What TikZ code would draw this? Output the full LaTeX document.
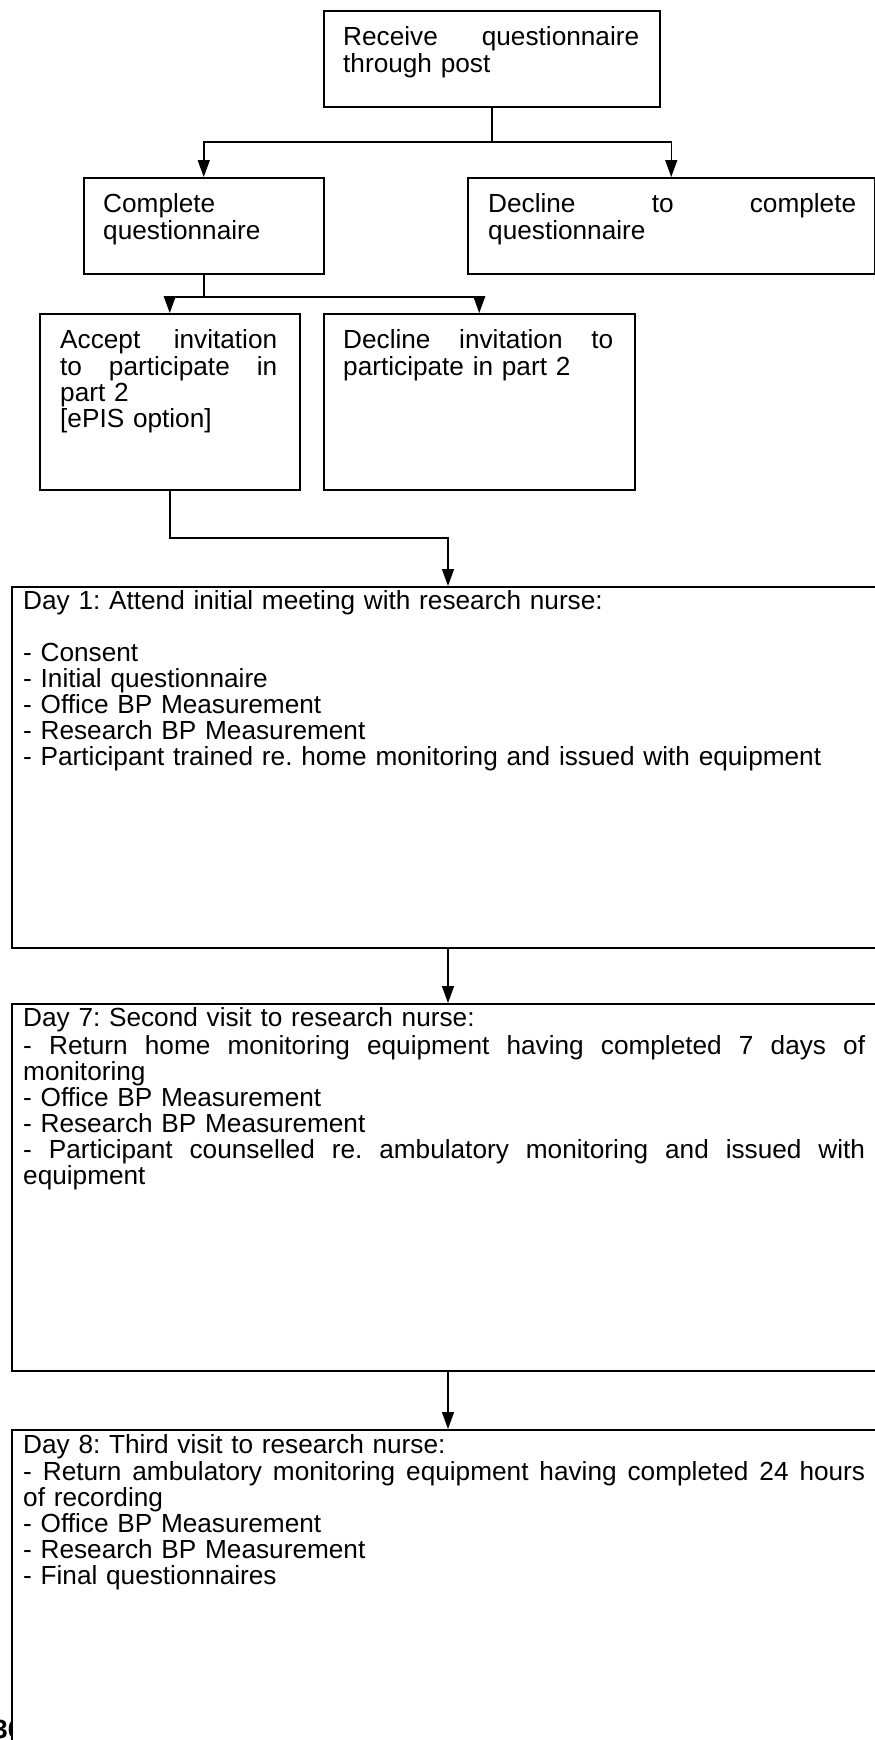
\documentclass[tikz,border=0pt]{standalone}
\usepackage{fontspec}
\setmainfont{Liberation Sans}
\usetikzlibrary{arrows.meta,calc}
\newcommand{\jline}[1]{\makebox[842pt][s]{\spaceskip=0pt #1}}
\begin{document}
\begin{tikzpicture}[x=1pt,y=-1pt,
  boxst/.style={draw=black, line width=1.5pt, fill=white, inner sep=0pt, anchor=north west},
  txt/.style={font=\fontsize{26.2}{26}\selectfont\frenchspacing, inner sep=0pt, anchor=north west, align=left},
  arr/.style={line width=1.5pt, -{Triangle[length=17pt,width=12pt]}},
  ln/.style={line width=1.5pt},
  pgnum/.style={font=\fontsize{26.3}{26}\selectfont\bfseries, inner sep=0pt, anchor=base west}]
\useasboundingbox (0,0) rectangle (875,1740);
\clip (0,0) rectangle (875,1740);

% boxes
\node[boxst, minimum width=336pt, minimum height=96pt] (b1) at (323,10) {};
\node[boxst, minimum width=240pt, minimum height=96pt] (b2) at (83,177) {};
\node[boxst, minimum width=407pt, minimum height=96pt] (b3) at (467,177) {};
\node[boxst, minimum width=260pt, minimum height=176pt] (b4) at (39,313) {};
\node[boxst, minimum width=311pt, minimum height=176pt] (b5) at (323,313) {};
\node[boxst, minimum width=900pt, minimum height=361pt] (d1) at (11,586) {};
\node[boxst, minimum width=900pt, minimum height=367pt] (d7) at (11,1003) {};
\node[pgnum] (pg) at (-7,1738) {36};
\node[boxst, minimum width=900pt, minimum height=340pt] (d8) at (11,1429) {};

% texts
\node[txt, text width=296pt] (t1) at ($(b1.north west)+(20,16)$)
  {\strut Receive\hfill questionnaire\\through post};
\node[txt, text width=200pt] (t2) at ($(b2.north west)+(20,16)$)
  {\strut Complete\\questionnaire};
\node[txt, text width=368pt] (t3) at ($(b3.north west)+(21,16)$)
  {\strut Decline\hfill to\hfill complete\\questionnaire};
\node[txt, text width=217pt] (t4) at ($(b4.north west)+(21,16)$)
  {\strut Accept\hfill invitation\\to\hfill participate\hfill in\\part 2\\{[}ePIS option{]}};
\node[txt, text width=270pt] (t5) at ($(b5.north west)+(20,16)$)
  {\strut Decline\hfill invitation\hfill to\\participate in part 2};
\node[txt, text width=842pt] (t6) at ($(d1.north west)+(12,4.8)$)
  {\strut Day 1: Attend initial meeting with research nurse:\\\mbox{}\\
   - Consent\\
   - Initial questionnaire\\
   - Office BP Measurement\\
   - Research BP Measurement\\
   - Participant trained re. home monitoring and issued with equipment};
\node[txt, text width=842pt] (t7) at ($(d7.north west)+(12,4.8)$)
  {\strut Day 7: Second visit to research nurse:\\
   \jline{- Return home monitoring equipment having completed 7 days of}\\
   monitoring\\
   - Office BP Measurement\\
   - Research BP Measurement\\
   \jline{- Participant counselled re. ambulatory monitoring and issued with}\\
   equipment};
\node[txt, text width=842pt] (t8) at ($(d8.north west)+(12,4.8)$)
  {\strut Day 8: Third visit to research nurse:\\
   \jline{- Return ambulatory monitoring equipment having completed 24 hours}\\
   of recording\\
   - Office BP Measurement\\
   - Research BP Measurement\\
   - Final questionnaires};

% connectors
\coordinate (j1) at (491,142);
\coordinate (j2) at (203,297);
\coordinate (j3) at (448,538);
\draw[ln] (b1.south) -- (b1.south |- j1);
\draw[arr] (b1.south |- j1) -| (b2.north);
\draw[arr] (b1.south |- j1) -| (b3.north);
\draw[ln] (b2.south) -- (b2.south |- j2);
\draw[arr] (b2.south |- j2) -| (b4.north);
\draw[arr] (b2.south |- j2) -| (b5.north);
\draw[arr] (b4.south) |- (j3) -- (j3 |- d1.north);
\draw[arr] (j3 |- d1.south) -- (j3 |- d7.north);
\draw[arr] (j3 |- d7.south) -- (j3 |- d8.north);
\end{tikzpicture}
\end{document}
